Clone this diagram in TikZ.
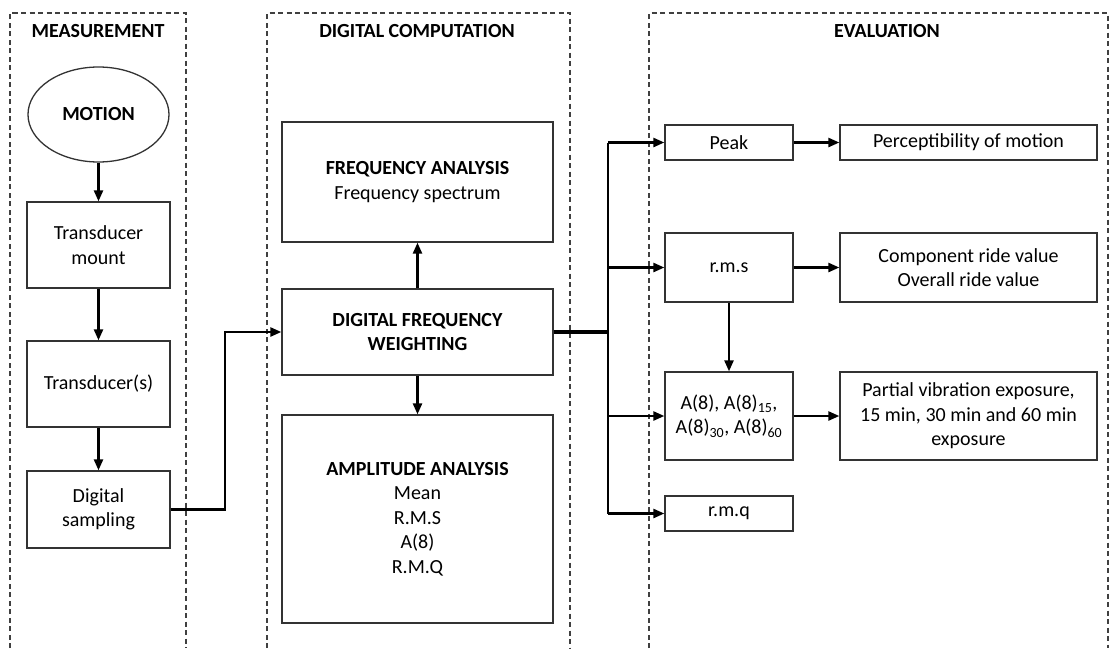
\documentclass[tikz,border=0pt]{standalone}
\usepackage{fontspec}
\setmainfont{Carlito}
\usetikzlibrary{positioning,shapes.geometric,arrows.meta}

\begin{document}
\begin{tikzpicture}[x=1pt, y=-1pt,
	font=\fontsize{20}{24.4}\selectfont,
	block/.style={rectangle, draw=black!80, line width=1.3pt, align=center, inner sep=2pt},
	stage/.style={draw=black!75, line width=1.1pt, dash pattern=on 5pt off 3.5pt},
	title/.style={font=\fontsize{20}{24.4}\selectfont\bfseries},
	flow/.style={-{Triangle[length=11pt,width=9pt]}, line width=2.4pt}
	]
	\useasboundingbox (0,0) rectangle (1118,648);
	% stages
	\draw[stage] (10,648) -- (10,13) -- (186,13) -- (186,648);
	\draw[stage] (267,648) -- (267,13) -- (570,13) -- (570,648);
	\draw[stage] (649,648) -- (649,13) -- (1108,13) -- (1108,648);
	\node[title] (tmeas) at (98,31) {MEASUREMENT};
	\node[title] (tcomp) at (417,31) {DIGITAL COMPUTATION};
	\node[title] (teval) at (887,31) {EVALUATION};

	% measurement
	\node[ellipse, draw=black!80, line width=1.3pt, minimum width=141pt, minimum height=95pt,
		font=\fontsize{20}{24.4}\selectfont\bfseries] (motion) at (98.5,114.5) {MOTION};
	\node[block, minimum width=143pt, minimum height=86pt] (mount) at (98.5,245) {Transducer\\ mount};
	\node[block, minimum width=143pt, minimum height=86pt] (transducers) at (98.5,384) {Transducer(s)};
	\node[block, minimum width=143pt, minimum height=77pt] (sampling) at (98.5,509.5) {Digital\\ sampling};

	% computation
	\node[block, minimum width=271pt, minimum height=120pt] (freq) at (417.5,182)
		{\textbf{FREQUENCY ANALYSIS}\\ Frequency spectrum};
	\node[block, minimum width=271pt, minimum height=86pt] (dfw) at (417.5,332)
		{\textbf{DIGITAL FREQUENCY}\\ \textbf{WEIGHTING}};
	\node[block, minimum width=271pt, minimum height=208pt] (amp) at (417.5,519)
		{\textbf{AMPLITUDE ANALYSIS}\\ Mean\\ R.M.S\\ A(8)\\ R.M.Q};

	% evaluation
	\node[block, minimum width=128pt, minimum height=35pt] (peak) at (729,142.5) {Peak};
	\node[block, minimum width=128pt, minimum height=69pt] (rms) at (729,267.5) {r.m.s};
	\node[block, minimum width=128pt, minimum height=88pt] (aeight) at (729,416)
		{A(8), A(8)\textsubscript{15},\\ A(8)\textsubscript{30}, A(8)\textsubscript{60}};
	\node[block, minimum width=128pt, minimum height=35pt] (rmq) at (729,513.5) {r.m.q};
	\node[block, minimum width=257pt, minimum height=35pt] (percept) at (968.5,142.5) {Perceptibility of motion};
	\node[block, minimum width=257pt, minimum height=69pt] (ride) at (968.5,267.5)
		{Component ride value\\ Overall ride value};
	\node[block, minimum width=257pt, minimum height=88pt] (partial) at (968.5,416)
		{Partial vibration exposure,\\ 15 min, 30 min and 60 min\\ exposure};

	\coordinate (bend) at (225,332);
	\coordinate (hub) at (608,332);

	\draw[flow] (motion) -- (mount);
	\draw[flow] (mount) -- (transducers);
	\draw[flow] (transducers) -- (sampling);
	\draw[flow] (sampling.east) -| (bend) -- (dfw.west);
	\draw[flow] (dfw) -- (freq);
	\draw[flow] (dfw) -- (amp);
	\draw[line width=4pt] (dfw.east) -- (hub);
	\draw[line width=2.8pt] (hub |- peak) -- (hub |- rmq);
	\foreach \n in {peak,rms,aeight,rmq}
		\draw[flow] (hub |- \n) -- (\n.west);
	\draw[flow] (peak) -- (percept);
	\draw[flow] (rms) -- (ride);
	\draw[flow] (rms) -- (aeight);
	\draw[flow] (aeight) -- (partial);
\end{tikzpicture}
\end{document}
